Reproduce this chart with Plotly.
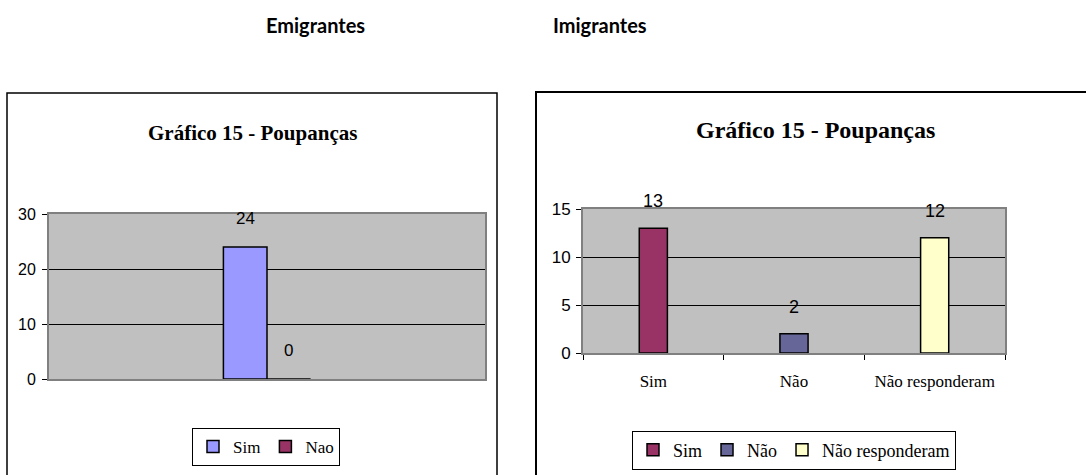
import plotly.graph_objects as go

# Emigrantes (left chart)
emi_category = ["Poupanças"]
emi_series = ["Sim", "Nao"]
emi_values = [24, 0]
emi_colors = ["#9999FF", "#993366"]
emi_ticks = [0, 10, 20, 30]

# Imigrantes (right chart)
imi_categories = ["Sim", "Não", "Não responderam"]
imi_values = [13, 2, 12]
imi_colors = ["#993366", "#666699", "#FFFFCC"]
imi_ticks = [0, 5, 10, 15]

W, H = 1086, 475
BARGAP = 0.8

SERIF = "Liberation Serif, Times New Roman, serif"
SANS = "Liberation Sans, Arial, sans-serif"


def px_x(p):
    return p / W


def px_y(p):
    return 1 - p / H


fig = go.Figure()

# left chart: two grouped series in a single category
for name, val, col in zip(emi_series, emi_values, emi_colors):
    fig.add_trace(go.Bar(
        x=emi_category, y=[val], name=name,
        marker=dict(color=col, line=dict(color="black", width=1.5)),
        offsetgroup=name, xaxis="x", yaxis="y", legend="legend",
        hoverinfo="y"
    ))

# right chart: one bar per category, each its own legend entry
for cat, val, col in zip(imi_categories, imi_values, imi_colors):
    fig.add_trace(go.Bar(
        x=[cat], y=[val], name=cat,
        marker=dict(color=col, line=dict(color="black", width=1.5)),
        offsetgroup="imi", xaxis="x2", yaxis="y2", legend="legend2",
        hoverinfo="y"
    ))

annotations = []

# value labels above bars
half = (1 - BARGAP) / 4
for i, val in enumerate(emi_values):
    annotations.append(dict(
        x=(i * 2 - 1) * half, y=val, xref="x", yref="y", yshift=29,
        xanchor="center", yanchor="middle", text=str(val), showarrow=False,
        font=dict(family=SANS, size=17, color="black")
    ))
for cat, val in zip(imi_categories, imi_values):
    annotations.append(dict(
        x=cat, y=val, xref="x2", yref="y2", yshift=27,
        xanchor="center", yanchor="middle", text=str(val), showarrow=False,
        font=dict(family=SANS, size=18, color="black")
    ))

# chart titles
annotations.append(dict(
    x=px_x(252), y=px_y(133), xref="paper", yref="paper",
    xanchor="center", yanchor="middle",
    text="<b>Gráfico 15 - Poupanças</b>", showarrow=False,
    font=dict(family=SERIF, size=21, color="black")
))
annotations.append(dict(
    x=px_x(815), y=px_y(130), xref="paper", yref="paper",
    xanchor="center", yanchor="middle",
    text="<b>Gráfico 15 - Poupanças</b>", showarrow=False,
    font=dict(family=SERIF, size=24, color="black")
))

# page headers
for label, cx in [("Emigrantes", 315), ("Imigrantes", 600)]:
    annotations.append(dict(
        x=px_x(cx), y=px_y(25), xref="paper", yref="paper",
        xanchor="center", yanchor="middle",
        text=f"<b>{label}</b>", showarrow=False,
        font=dict(family="Lato, Open Sans, sans-serif", size=20, color="black")
    ))

# chart frames
shapes = [
    dict(type="rect", xref="paper", yref="paper",
         x0=px_x(7), x1=px_x(497), y0=-0.1, y1=px_y(93),
         line=dict(color="black", width=1.5)),
    dict(type="rect", xref="paper", yref="paper",
         x0=px_x(536), x1=px_x(1100), y0=-0.1, y1=px_y(92),
         line=dict(color="black", width=2)),
]

axis_common = dict(
    showline=True, mirror=True, linecolor="#808080", linewidth=2,
    showgrid=True, gridcolor="black", gridwidth=1, zeroline=False,
    ticks="outside", ticklen=5, tickcolor="black", fixedrange=True,
)

fig.update_layout(
    width=W, height=H,
    margin=dict(l=0, r=0, t=0, b=0, autoexpand=False),
    paper_bgcolor="white",
    plot_bgcolor="#C0C0C0",
    barmode="group",
    bargap=BARGAP,
    bargroupgap=0,
    annotations=annotations,
    shapes=shapes,
    xaxis=dict(
        domain=[px_x(49), px_x(485)], anchor="y",
        showline=True, mirror=True, linecolor="#808080", linewidth=2,
        showgrid=False, showticklabels=False, ticks="", fixedrange=True,
    ),
    yaxis=dict(
        domain=[px_y(379), px_y(214)], anchor="x",
        range=[0, 30], tickvals=emi_ticks,
        tickfont=dict(family=SANS, size=16, color="black"),
        ticklabelstandoff=3,
        **axis_common
    ),
    xaxis2=dict(
        domain=[px_x(583), px_x(1005)], anchor="y2",
        showline=True, mirror=True, linecolor="#808080", linewidth=2,
        showgrid=False, ticks="outside", ticklen=5, tickcolor="black",
        tickson="boundaries", fixedrange=True,
        tickfont=dict(family=SERIF, size=17, color="black"),
        ticklabelstandoff=12,
    ),
    yaxis2=dict(
        domain=[px_y(353), px_y(209)], anchor="x2",
        range=[0, 15], tickvals=imi_ticks,
        tickfont=dict(family=SANS, size=17, color="black"),
        ticklabelstandoff=2,
        **axis_common
    ),
    legend=dict(
        orientation="h", x=px_x(266), y=px_y(447),
        xanchor="center", yanchor="middle",
        bordercolor="black", borderwidth=1, bgcolor="white",
        font=dict(family=SERIF, size=17, color="black"),
        itemwidth=30, itemclick=False, itemdoubleclick=False,
    ),
    legend2=dict(
        orientation="h", x=px_x(794), y=px_y(450),
        xanchor="center", yanchor="middle",
        bordercolor="black", borderwidth=1, bgcolor="white",
        font=dict(family=SERIF, size=18, color="black"),
        itemwidth=30, itemclick=False, itemdoubleclick=False,
    ),
    showlegend=True,
)

# drop the default page margin so the figure sits at the window's top-left corner
fig.write_html("out.html", config={"displayModeBar": False},
               post_script="document.body.style.margin = '0';")
